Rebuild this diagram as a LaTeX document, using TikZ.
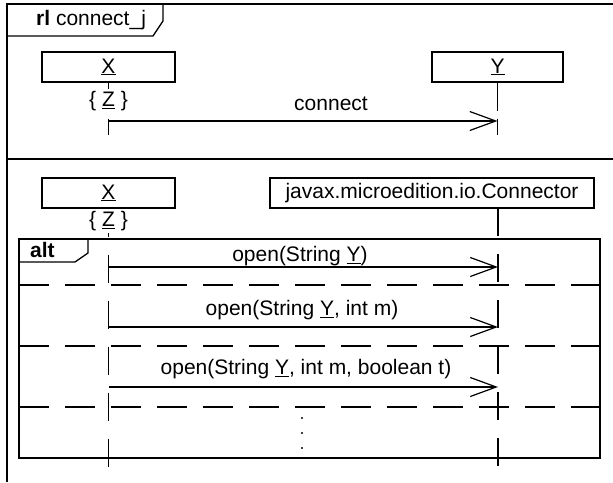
\documentclass[tikz,border=0pt]{standalone}
\usepackage{fontspec}
\setmainfont{Liberation Sans}
\usetikzlibrary{arrows.meta}
\begin{document}
\begin{tikzpicture}[x=1pt,y=-1pt,
  every node/.style={font=\fontsize{21}{25}\selectfont, inner sep=0pt},
  frameline/.style={line width=1.3pt},
  objbox/.style={draw, line width=1.4pt, minimum height=30pt, fill=white},
  lifetop/.style={line width=1.3pt, dash pattern=on 28pt off 8pt},
  lifelow/.style={line width=1.3pt, dash pattern=on 28pt off 18pt},
  altsep/.style={line width=1.3pt, dash pattern=on 30pt off 16pt},
  msg/.style={line width=1.2pt, -{Straight Barb[length=26pt,width=19pt,line width=1.2pt]}},
  zlabel/.style={fill=white, inner xsep=1pt, inner ysep=2pt},
  dotmark/.style={circle, fill, inner sep=0pt, minimum size=2.4pt}
]
\useasboundingbox (0,0) rectangle (613,482);

% outer frame
\draw[frameline] (7,482) -- (7,4) -- (613,4);
\draw[frameline] (7,159) -- (613,159);
\draw[frameline] (7,36) -- (153,36) -- (163,21) -- (163,4);
\node[anchor=west] (title) at (36,20) {\textbf{rl} connect\_j};

% ---------- top section ----------
\node[objbox, minimum width=133pt] (x1) at (108.5,67) {\underline{X}};
\node[objbox, minimum width=131pt] (y1) at (497.5,67) {\underline{Y}};
\coordinate (x1end) at (108.5,135);
\coordinate (y1end) at (497.5,135);
\draw[lifetop] (x1.south) -- (x1end);
\draw[lifetop] (y1.south) -- (y1end);
\node[zlabel] (z1) at (108.5,101) {\{ \underline{Z} \}};
\coordinate (m0s) at (108.5,121);
\coordinate (m0e) at (497.5,121);
\draw[msg] (m0s) -- (m0e);
\node (l0) at (331,104) {connect};

% ---------- lower section ----------
\node[objbox, minimum width=133pt] (x2) at (108.5,193) {\underline{X}};
\node[objbox, minimum width=324pt] (c2) at (432,193) {javax.microedition.io.Connector};
\coordinate (c2top) at (498,208);
\coordinate (x2end) at (108.5,467);
\coordinate (c2end) at (498,467);
\draw[lifelow] (x2.south) -- (x2end);
\draw[lifelow] (c2top) -- (c2end);
\node[zlabel] (z2) at (108.5,221) {\{ \underline{Z} \}};

% alt fragment
\draw[line width=1.4pt] (19,239) rectangle (600,458);
\draw[frameline] (19,262) -- (75,262) -- (88,253) -- (88,239);
\node[anchor=west] (alt) at (30,250) {\textbf{alt}};
\draw[altsep] (19,285) -- (600,285);
\draw[altsep] (19,346) -- (600,346);
\draw[altsep] (19,407) -- (600,407);

% messages
\coordinate (m1s) at (108.5,267);
\coordinate (m1e) at (498,267);
\coordinate (m2s) at (108.5,327);
\coordinate (m2e) at (498,327);
\coordinate (m3s) at (108.5,387);
\coordinate (m3e) at (498,387);
\draw[msg] (m1s) -- (m1e);
\draw[msg] (m2s) -- (m2e);
\draw[msg] (m3s) -- (m3e);
\node (l1) at (300,256) {open(String \underline{Y})};
\node (l2) at (302,310) {open(String \underline{Y}, int m)};
\node (l3) at (306,369) {open(String \underline{Y}, int m, boolean t)};

% dots
\node[dotmark] (d1) at (302,418) {};
\node[dotmark] (d2) at (302,433) {};
\node[dotmark] (d3) at (302,448) {};
\end{tikzpicture}
\end{document}
